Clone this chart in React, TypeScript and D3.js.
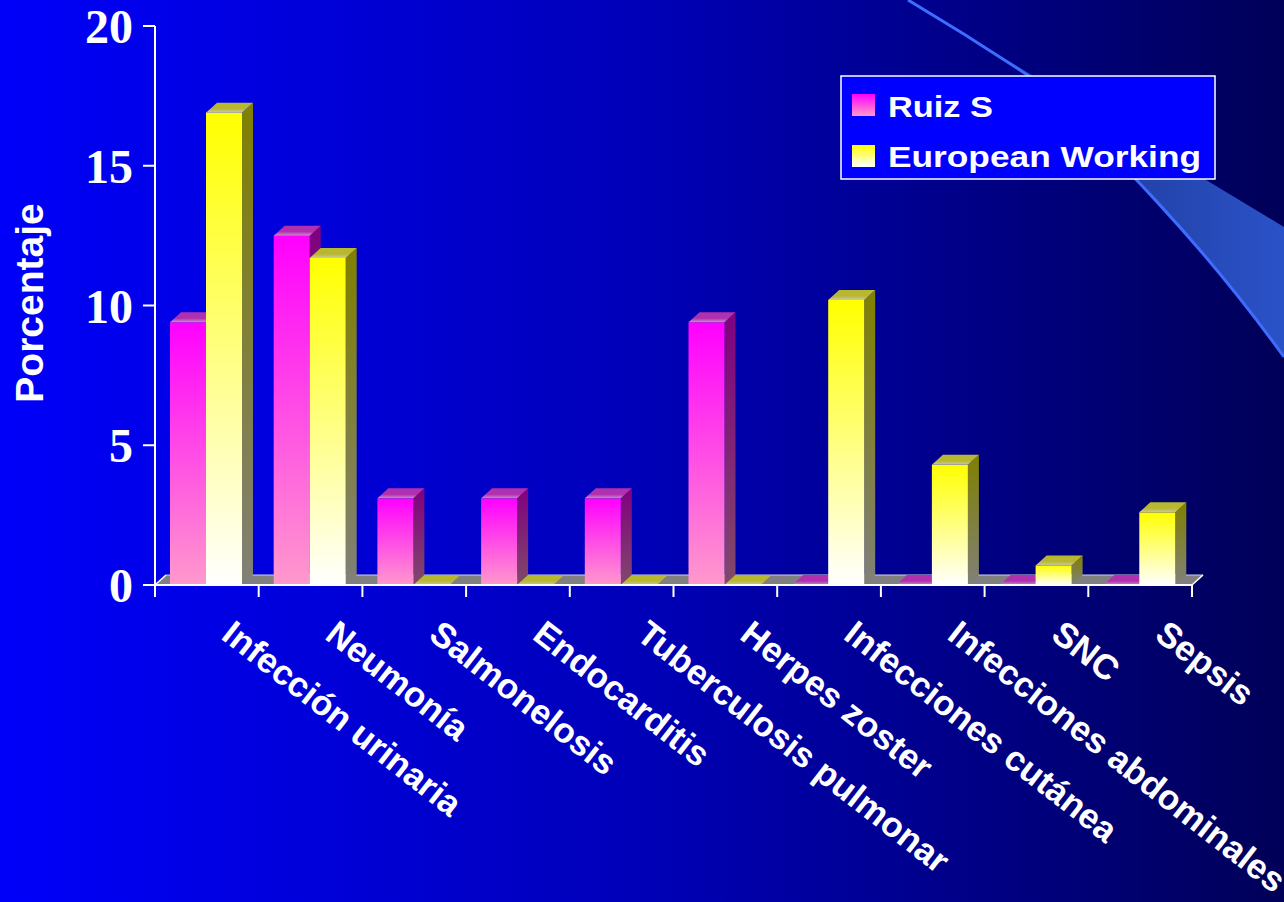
import React from "react";
import * as d3 from "d3";

const categories = [
  "Infección urinaria",
  "Neumonía",
  "Salmonelosis",
  "Endocarditis",
  "Tuberculosis pulmonar",
  "Herpes zoster",
  "Infecciones cutánea",
  "Infecciones abdominales",
  "SNC",
  "Sepsis",
];
const ruizS = [9.4, 12.5, 3.1, 3.1, 3.1, 9.4, 0, 0, 0, 0];
const europeanWorking = [16.9, 11.7, 0, 0, 0, 0, 10.2, 4.3, 0.7, 2.6];
const seriesNames = ["Ruiz S", "European Working"];
const yTicks = [0, 5, 10, 15, 20];
const yAxisTitle = "Porcentaje";

const W = 1284;
const H = 902;
const DX = 11;
const DY = -10;

const palettes = [
  { front: ["#ff00ff", "#ff99cc"], side: ["#800080", "#804a6a"], top: ["#b030b0", "#c890c8"], swatch: ["#ff00ff", "#ff99cc"] },
  { front: ["#ffff00", "#ffffff"], side: ["#808000", "#808078"], top: ["#b8b830", "#c8c8b0"], swatch: ["#ffff00", "#ffffff"] },
];

export default function App() {
  const x = d3.scaleBand<string>().domain(categories).range([155, 1192]).paddingInner(0).paddingOuter(0);
  const inner = d3.scaleBand<string>().domain(seriesNames).range([15, 87]).padding(0);
  const y = d3.scaleLinear().domain([0, 20]).range([585, 26]);
  const y0 = y(0);
  const seriesData = [ruizS, europeanWorking];
  const bw = inner.bandwidth();

  const bar = (ci: number, si: number) => {
    const v = seriesData[si][ci];
    const bx = (x(categories[ci]) as number) + (inner(seriesNames[si]) as number);
    const yt = y(v);
    const pts = (arr: number[][]) => arr.map((p) => p.join(",")).join(" ");
    return (
      <g key={`b${ci}-${si}`}>
        {v > 0 && (
          <polygon
            points={pts([[bx + bw, yt], [bx + bw + DX, yt + DY], [bx + bw + DX, y0 + DY], [bx + bw, y0]])}
            fill={`url(#side${si})`}
          />
        )}
        {v > 0 && <rect x={bx} y={yt} width={bw} height={y0 - yt} fill={`url(#front${si})`} />}
        <polygon
          points={pts([[bx, yt], [bx + DX, yt + DY], [bx + bw + DX, yt + DY], [bx + bw, yt]])}
          fill={`url(#top${si})`}
        />
      </g>
    );
  };

  return (
    <div style={{ position: "absolute", left: 0, top: 0, width: W, height: H }}>
      <svg width={W} height={H} style={{ display: "block" }}>
        <defs>
          <linearGradient id="bg" x1="0" y1="0" x2="1" y2="0">
            <stop offset="0" stopColor="#0000fa" />
            <stop offset="0.5" stopColor="#0000b8" />
            <stop offset="1" stopColor="#000058" />
          </linearGradient>
          <linearGradient id="swoosh" gradientUnits="userSpaceOnUse" x1="908" y1="0" x2="1284" y2="0">
            <stop offset="0" stopColor="#10208a" />
            <stop offset="0.45" stopColor="#203c9c" />
            <stop offset="1" stopColor="#2a52c8" />
          </linearGradient>
          {palettes.map((p, i) => (
            <React.Fragment key={i}>
              <linearGradient id={`front${i}`} x1="0" y1="0" x2="0" y2="1">
                <stop offset="0" stopColor={p.front[0]} />
                <stop offset="1" stopColor={p.front[1]} />
              </linearGradient>
              <linearGradient id={`side${i}`} x1="0" y1="0" x2="0" y2="1">
                <stop offset="0" stopColor={p.side[0]} />
                <stop offset="1" stopColor={p.side[1]} />
              </linearGradient>
              <linearGradient id={`top${i}`} x1="0" y1="0" x2="0" y2="1">
                <stop offset="0" stopColor={p.top[0]} />
                <stop offset="0.6" stopColor={p.top[0]} />
                <stop offset="1" stopColor={p.top[1]} />
              </linearGradient>
              <linearGradient id={`sw${i}`} x1="0" y1="0" x2="0" y2="1">
                <stop offset="0" stopColor={p.swatch[0]} />
                <stop offset="1" stopColor={p.swatch[1]} />
              </linearGradient>
            </React.Fragment>
          ))}
        </defs>
        <rect x={0} y={0} width={W} height={H} fill="url(#bg)" />
        {/* decorative swoosh */}
        <path d="M908,0 L1284,227 L1284,357 C1200,240 1110,150 1035,80 C990,50 950,25 908,0 Z" fill="url(#swoosh)" />
        <path d="M908,0 C950,25 990,50 1035,80 C1110,150 1200,240 1284,357" fill="none" stroke="#3d6cff" strokeWidth={3} />

        {/* floor */}
        <polygon points={`155,${y0} ${155 + DX},${y0 + DY} ${1192 + DX},${y0 + DY} 1192,${y0}`} fill="#808080" />
        <line x1={155 + DX} y1={y0 + DY} x2={1192 + DX} y2={y0 + DY} stroke="#d0d0d0" strokeWidth={1} />
        <line x1={155} y1={y0} x2={155 + DX} y2={y0 + DY} stroke="#ffffff" strokeWidth={1.5} />
        <line x1={1192} y1={y0} x2={1192 + DX} y2={y0 + DY} stroke="#ffffff" strokeWidth={1.5} />

        {/* bars */}
        {categories.map((_, ci) => [bar(ci, 0), bar(ci, 1)])}

        {/* axes */}
        <line x1={155} y1={26} x2={155} y2={597} stroke="#fff" strokeWidth={2} />
        <line x1={143} y1={y0} x2={1192} y2={y0} stroke="#fff" strokeWidth={2} />
        {yTicks.map((t) => (
          <g key={`yt${t}`}>
            <line x1={143} y1={y(t)} x2={155} y2={y(t)} stroke="#fff" strokeWidth={2} />
            <text
              x={133}
              y={y(t) + 17}
              textAnchor="end"
              fill="#fff"
              fontFamily="'Liberation Serif', 'Times New Roman', serif"
              fontWeight="bold"
              fontSize={48}
            >
              {t}
            </text>
          </g>
        ))}
        {d3.range(categories.length + 1).map((i) => {
          const xx = 155 + i * x.bandwidth();
          return <line key={`xt${i}`} x1={xx} y1={y0} x2={xx} y2={597} stroke="#fff" strokeWidth={2} />;
        })}
        {categories.map((c) => {
          const cx = (x(c) as number) + x.bandwidth() / 2 + 13;
          return (
            <text
              key={`xl${c}`}
              transform={`translate(${cx},638) rotate(38)`}
              fill="#fff"
              fontFamily="'Liberation Sans', Arial, sans-serif"
              fontWeight="bold"
              fontSize={35}
            >
              {c}
            </text>
          );
        })}
        <text
          transform="translate(43,303) rotate(-90)"
          textAnchor="middle"
          fill="#fff"
          fontFamily="'Liberation Sans', Arial, sans-serif"
          fontWeight="bold"
          fontSize={39}
        >
          {yAxisTitle}
        </text>

        {/* legend */}
        <rect x={841} y={76} width={374} height={103} fill="#0000ff" stroke="#fff" strokeWidth={1.5} />
        {seriesNames.map((s, i) => (
          <g key={`lg${s}`}>
            <rect x={852} y={94 + i * 51} width={23} height={22} fill={`url(#sw${i})`} />
            <text
              x={888}
              y={117 + i * 50}
              fill="#fff"
              fontFamily="'Liberation Sans', Arial, sans-serif"
              fontWeight="bold"
              fontSize={30}
              textLength={i === 0 ? 105 : 313}
              lengthAdjust="spacingAndGlyphs"
            >
              {s}
            </text>
          </g>
        ))}
      </svg>
    </div>
  );
}
